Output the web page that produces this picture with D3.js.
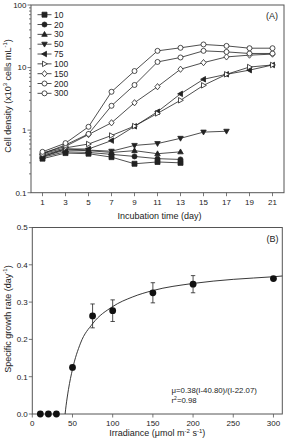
<!DOCTYPE html>
<html><head><meta charset="utf-8">
<script src="https://cdn.jsdelivr.net/npm/d3@7"></script>
<style>body{margin:0;background:#fff}svg{display:block;font-family:"Liberation Sans",Arial,sans-serif}</style>
</head><body><svg id="c" width="287" height="439"></svg>
<script>
// ---------- Panel A data ----------
const days = [1,3,5,7,9,11,13,15,17,19,21];
const s10  = [0.35,0.43,0.42,0.37,0.29,0.31,0.30];
const s20  = [0.37,0.45,0.44,0.41,0.38,0.35,0.34];
const s30  = [0.38,0.48,0.47,0.44,0.47,0.42,0.45];
const s50  = [0.38,0.50,0.48,0.46,0.57,0.61,0.74,0.93,0.96];
const s75  = [0.40,0.50,0.50,0.68,1.15,1.97,3.8,6.5,7.8,9.1,11.0];
const s100 = [0.42,0.52,0.60,0.82,1.16,1.85,3.0,5.2,7.8,10.2,11.0];
const s150 = [0.43,0.55,0.85,1.31,2.74,4.95,9.4,12.0,14.8,15.8,16.4];
const s200 = [0.42,0.58,0.87,2.45,5.27,12.3,14.5,18.5,17.8,16.8,16.8];
const s300 = [0.45,0.62,1.13,4.1,8.8,18.5,20.7,23.4,22.2,20.4,20.4];
const seriesNames = ["10","20","30","50","75","100","150","200","300"];
const seriesVals = [s10,s20,s30,s50,s75,s100,s150,s200,s300];
const seriesMarks = ["square","circle","up","down","left","rightOpen","diamondOpen","circleOpen","circleOpen"];
const dayTicks = [1,3,5,7,9,11,13,15,17,19,21];
const logTicks = [0.1,1,10,100];

// ---------- Panel B data ----------
const irr  = [10,20,30,50,75,100,150,200,300];
const rate = [0,0,0,0.125,0.263,0.277,0.325,0.348,0.363];
const err  = [0,0,0,0,0.032,0.029,0.027,0.023,0];
const fitI  = [40.8,42,45,50,60,75,100,125,150,200,250,300,311];
const fitMu = [0,0.022,0.066,0.12,0.19,0.242,0.288,0.314,0.331,0.350,0.361,0.368,0.370];
const irrTicks = [0,50,100,150,200,250,300];
const rateTicks = [0,0.1,0.2,0.3,0.4,0.5];

const svg = d3.select("#c");
const ink = "#222";

function markerPath(type, s){
  const h = s/2;
  switch(type){
    case "square": return `M${-h},${-h}H${h}V${h}H${-h}Z`;
    case "up": return `M0,${-h*1.15}L${h*1.1},${h*0.8}L${-h*1.1},${h*0.8}Z`;
    case "down": return `M0,${h*1.15}L${h*1.1},${-h*0.8}L${-h*1.1},${-h*0.8}Z`;
    case "left": return `M${-h*1.15},0L${h*0.8},${-h*1.1}L${h*0.8},${h*1.1}Z`;
    case "rightOpen": return `M${h*1.15},0L${-h*0.8},${-h*1.1}L${-h*0.8},${h*1.1}Z`;
    case "diamondOpen": return `M0,${-h*1.25}L${h*1.05},0L0,${h*1.25}L${-h*1.05},0Z`;
    default: return d3.symbol(d3.symbolCircle, Math.PI*h*h)();
  }
}
function drawMarker(g, type, x, y, s){
  const open = /Open/.test(type);
  g.append("path").attr("d", markerPath(type, s))
    .attr("transform", `translate(${x},${y})`)
    .attr("fill", open ? "#fff" : ink)
    .attr("stroke", ink).attr("stroke-width", 0.8);
}

// ================= Panel A =================
const A = {l:31, r:284, t:5, b:192.7};
const xA = d3.scaleLinear().domain([0,22]).range([A.l, A.r]);
const yA = d3.scaleLog().domain([0.1,100]).range([A.b, A.t]);

const gA = svg.append("g");
gA.append("rect").attr("x",A.l).attr("y",A.t).attr("width",A.r-A.l).attr("height",A.b-A.t)
  .attr("fill","none").attr("stroke","#555").attr("stroke-width",1);

const minor = [];
[0.1,1,10].forEach(d=>{for(let k=2;k<=9;k++) minor.push(d*k);});
gA.selectAll(".ymin").data(minor).enter().append("line")
  .attr("x1",A.l-2).attr("x2",A.l).attr("y1",d=>yA(d)).attr("y2",d=>yA(d))
  .attr("stroke","#555").attr("stroke-width",0.8);
gA.selectAll(".ymaj").data(logTicks).enter().append("line")
  .attr("x1",A.l-3.5).attr("x2",A.l).attr("y1",d=>yA(d)).attr("y2",d=>yA(d))
  .attr("stroke","#555").attr("stroke-width",0.8);
gA.selectAll(".ylab").data(logTicks).enter().append("text")
  .attr("x",A.l-4.5).attr("y",d=>yA(d)+2.8).attr("text-anchor","end")
  .attr("font-size",8).attr("fill",ink).text(d=>d>=1?d3.format("d")(d):"0.1");

gA.selectAll(".xt").data(dayTicks).enter().append("line")
  .attr("x1",d=>xA(d)).attr("x2",d=>xA(d)).attr("y1",A.b).attr("y2",A.b+3.5)
  .attr("stroke","#555").attr("stroke-width",0.8);
gA.selectAll(".xl").data(dayTicks).enter().append("text")
  .attr("x",d=>xA(d)).attr("y",A.b+12).attr("text-anchor","middle")
  .attr("font-size",8).attr("fill",ink).text(d=>d);
gA.append("text").attr("x",(A.l+A.r)/2+2).attr("y",218.5).attr("text-anchor","middle")
  .attr("font-size",9).attr("fill",ink).text("Incubation time (day)");

const tA = gA.append("text").attr("transform","translate(10.5,96) rotate(-90)")
  .attr("text-anchor","middle").attr("font-size",9).attr("fill",ink);
tA.append("tspan").text("Cell density (x10");
tA.append("tspan").attr("font-size",6).attr("dy",-3.5).text("3");
tA.append("tspan").attr("dy",3.5).text(" cells mL");
tA.append("tspan").attr("font-size",6).attr("dy",-3.5).text("-1");
tA.append("tspan").attr("dy",3.5).text(")");

const lineA = d3.line().x((d,i)=>xA(days[i])).y(d=>yA(d));
seriesVals.forEach((vals,si)=>{
  gA.append("path").attr("d",lineA(vals)).attr("fill","none")
    .attr("stroke",ink).attr("stroke-width",0.8);
});
seriesVals.forEach((vals,si)=>{
  vals.forEach((v,i)=>drawMarker(gA, seriesMarks[si], xA(days[i]), yA(v), 5));
});

seriesNames.forEach((n,i)=>{
  const y = 14.7 + i*9.83;
  gA.append("line").attr("x1",37.5).attr("x2",51.5).attr("y1",y).attr("y2",y)
    .attr("stroke",ink).attr("stroke-width",0.8);
  drawMarker(gA, seriesMarks[i], 44.5, y, 5);
  gA.append("text").attr("x",54).attr("y",y+3).attr("font-size",8.5).attr("fill",ink).text(n);
});
gA.append("text").attr("x",278).attr("y",19).attr("text-anchor","end")
  .attr("font-size",9).attr("fill",ink).text("(A)");

// ================= Panel B =================
const B = {l:32.3, r:282.3, t:227.5, b:414};
const xB = d3.scaleLinear().domain([0,311]).range([B.l, B.r]);
const yB = d3.scaleLinear().domain([0,0.5]).range([B.b, B.t]);
const gB = svg.append("g");
gB.append("rect").attr("x",B.l).attr("y",B.t).attr("width",B.r-B.l).attr("height",B.b-B.t)
  .attr("fill","none").attr("stroke","#555").attr("stroke-width",1);

gB.selectAll(".yt").data(rateTicks).enter().append("line")
  .attr("x1",B.l-3.5).attr("x2",B.l).attr("y1",d=>yB(d)).attr("y2",d=>yB(d))
  .attr("stroke","#555").attr("stroke-width",0.8);
gB.selectAll(".yl").data(rateTicks).enter().append("text")
  .attr("x",B.l-4.5).attr("y",d=>yB(d)+2.8).attr("text-anchor","end")
  .attr("font-size",8).attr("fill",ink).text(d=>d3.format(".1f")(d));
gB.selectAll(".xt").data(irrTicks).enter().append("line")
  .attr("x1",d=>xB(d)).attr("x2",d=>xB(d)).attr("y1",B.b).attr("y2",B.b+3.5)
  .attr("stroke","#555").attr("stroke-width",0.8);
gB.selectAll(".xl").data(irrTicks).enter().append("text")
  .attr("x",d=>xB(d)).attr("y",B.b+12).attr("text-anchor","middle")
  .attr("font-size",8).attr("fill",ink).text(d=>d);

const xtB = gB.append("text").attr("x",(B.l+B.r)/2).attr("y",436.3)
  .attr("text-anchor","middle").attr("font-size",9).attr("fill",ink);
xtB.append("tspan").text("Irradiance (μmol m");
xtB.append("tspan").attr("font-size",6).attr("dy",-3.5).text("-2");
xtB.append("tspan").attr("dy",3.5).text(" s");
xtB.append("tspan").attr("font-size",6).attr("dy",-3.5).text("-1");
xtB.append("tspan").attr("dy",3.5).text(")");

const tB = gB.append("text").attr("transform","translate(10.5,319) rotate(-90)")
  .attr("text-anchor","middle").attr("font-size",9).attr("fill",ink);
tB.append("tspan").text("Specific growth rate (day");
tB.append("tspan").attr("font-size",6).attr("dy",-3.5).text("-1");
tB.append("tspan").attr("dy",3.5).text(")");

const lineB = d3.line().x((d,i)=>xB(fitI[i])).y(d=>yB(d)).curve(d3.curveMonotoneX);
gB.append("path").attr("d",lineB(fitMu)).attr("fill","none")
  .attr("stroke",ink).attr("stroke-width",0.9);

irr.forEach((I,i)=>{
  if(err[i]<=0) return;
  const x = xB(I), y1 = yB(rate[i]+err[i]), y2 = yB(rate[i]-err[i]);
  gB.append("line").attr("x1",x).attr("x2",x).attr("y1",y1).attr("y2",y2).attr("stroke",ink).attr("stroke-width",0.8);
  [y1,y2].forEach(y=>gB.append("line").attr("x1",x-2.2).attr("x2",x+2.2).attr("y1",y).attr("y2",y).attr("stroke",ink).attr("stroke-width",0.8));
});
gB.selectAll(".pt").data(rate).enter().append("circle")
  .attr("cx",(d,i)=>xB(irr[i])).attr("cy",d=>yB(d)).attr("r",3.4).attr("fill","#111");

gB.append("text").attr("x",171.5).attr("y",393).attr("font-size",7.8).attr("fill",ink)
  .text("μ=0.38(I-40.80)/(I-22.07)");
const r2 = gB.append("text").attr("x",171.5).attr("y",402.5).attr("font-size",7.8).attr("fill",ink);
r2.append("tspan").text("r");
r2.append("tspan").attr("font-size",5).attr("dy",-3).text("2");
r2.append("tspan").attr("dy",3).text("=0.98");
gB.append("text").attr("x",278.5).attr("y",241.5).attr("text-anchor","end")
  .attr("font-size",9).attr("fill",ink).text("(B)");
</script></body></html>
